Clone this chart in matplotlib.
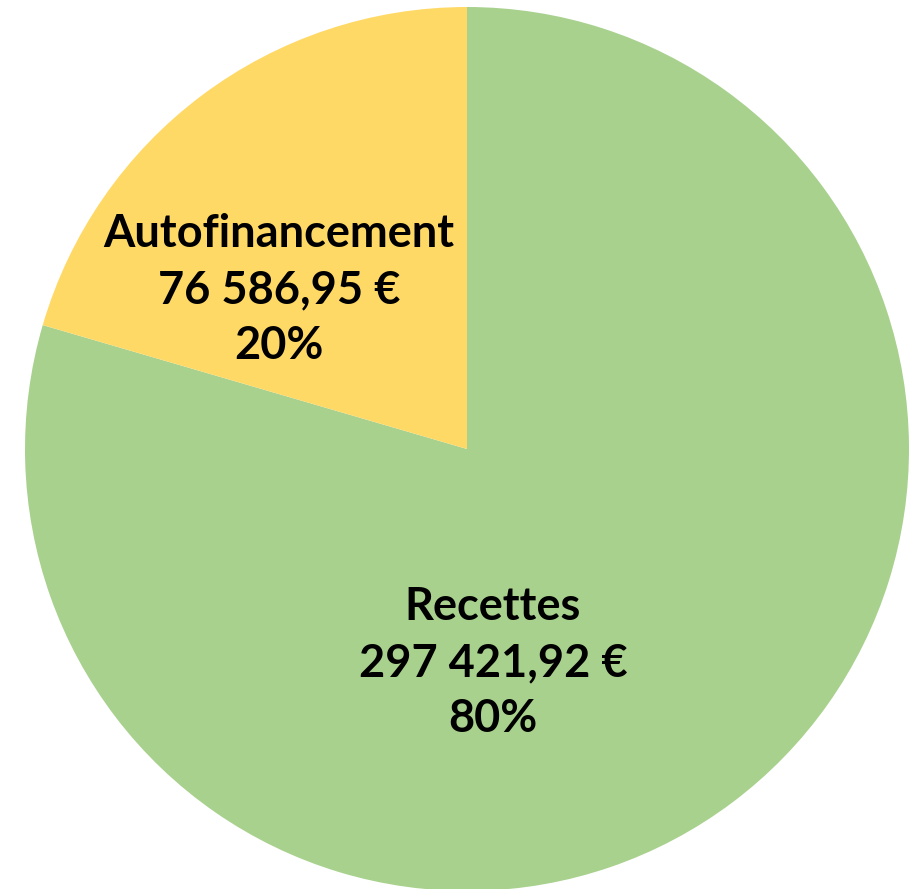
import matplotlib
matplotlib.use("Agg")
import matplotlib.pyplot as plt

categories = ["Recettes", "Autofinancement"]
values = [297421.92, 76586.95]
value_labels = ["297 421,92 €", "76 586,95 €"]
colors = ["#A9D18E", "#FFD966"]

W, H = 923, 889
fig = plt.figure(figsize=(W / 100, H / 100), dpi=100)
ax = fig.add_axes([0, 0, 1, 1])

ax.pie(values, colors=colors, startangle=90, counterclock=False,
       center=(467, 440), radius=442, frame=True,
       wedgeprops=dict(linewidth=0))
ax.set_xlim(0, W)
ax.set_ylim(0, H)
ax.set_aspect("equal")
ax.axis("off")

total = sum(values)
label_pos = [(493 / W, 1 - 663 / H), (279 / W, 1 - 290 / H)]
for cat, v, vl, (x, y) in zip(categories, values, value_labels, label_pos):
    pct = f"{round(v / total * 100):.0f}%"
    ax.text(x, y, f"{cat}\n{vl}\n{pct}", transform=ax.transAxes,
            ha="center", va="center", fontsize=32.5, fontweight="bold",
            family=["Lato", "DejaVu Sans"], linespacing=1.42, color="black")

fig.savefig("out.png", dpi=100)
